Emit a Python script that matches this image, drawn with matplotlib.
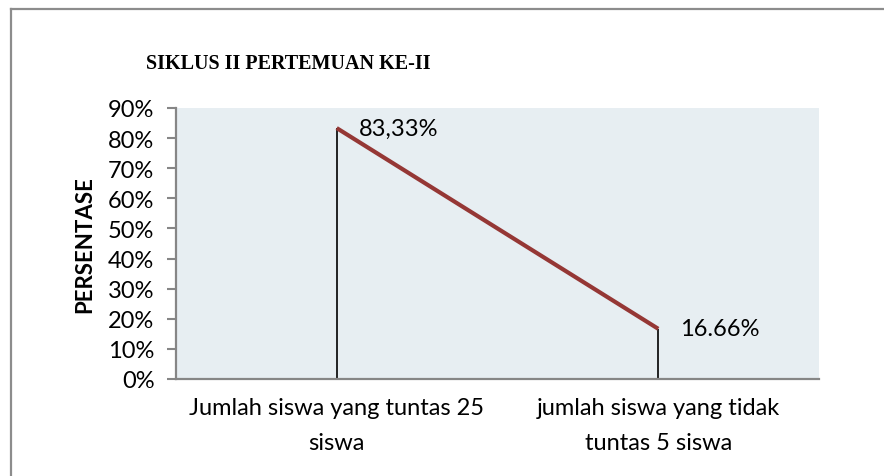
import matplotlib
matplotlib.use("Agg")
import numpy as np
from matplotlib import pyplot as plt
from matplotlib.ticker import FuncFormatter

categories = ["Jumlah siswa yang tuntas 25\nsiswa", "jumlah siswa yang tidak\ntuntas 5 siswa"]
values = [0.8333, 0.1666]
point_labels = ["83,33%", "16.66%"]
title = "SIKLUS II PERTEMUAN KE-II"
ylabel = "PERSENTASE"

fs = 17

fig = plt.figure(figsize=(8.84, 4.77), dpi=100)

# outer chart border (only top and left visible)
fig.add_artist(plt.Line2D([0.0125, 1.0], [0.978, 0.978], color="#8c8c8c", lw=1.6, transform=fig.transFigure))
fig.add_artist(plt.Line2D([0.0125, 0.0125], [0.0, 0.978], color="#8c8c8c", lw=1.6, transform=fig.transFigure))

ax = fig.add_axes([0.199, 0.2034, 0.7275, 0.5681])
ax.set_facecolor("#e7eef2")

x = np.arange(len(categories))
ax.vlines(x, 0, values, colors="black", lw=1.2, zorder=2)
ax.plot(x, values, color="#953735", lw=3, zorder=3, solid_capstyle="butt")

for xi, v, lab in zip(x, values, point_labels):
    ax.annotate(lab, (xi, v), xytext=(16, 0), textcoords="offset points",
                ha="left", va="center", fontsize=fs, family="Lato")

ax.set_xlim(-0.5, 1.5)
ax.set_ylim(0, 0.9)
ax.set_yticks(np.arange(0, 0.91, 0.1))
ax.yaxis.set_major_formatter(FuncFormatter(lambda v, p: "%d%%" % round(v * 100)))
ax.set_xticks(x)
ax.set_xticklabels(categories, fontsize=fs, family="Lato", linespacing=1.8)
ax.tick_params(axis="x", length=0, pad=13)
ax.tick_params(axis="y", length=6.5, width=1.5, color="#868686", labelsize=fs, pad=9)
for lab in ax.get_yticklabels():
    lab.set_family("Lato")

for s in ["top", "right"]:
    ax.spines[s].set_visible(False)
for s in ["left", "bottom"]:
    ax.spines[s].set_color("#868686")
    ax.spines[s].set_linewidth(1.6)

ax.set_ylabel(ylabel, fontsize=16, fontweight="bold", family="Lato", labelpad=9)

fig.text(0.326, 0.866, title, ha="center", va="center", fontsize=14.5,
         fontweight="bold", family="Liberation Serif")

fig.savefig("out.png", dpi=100)
